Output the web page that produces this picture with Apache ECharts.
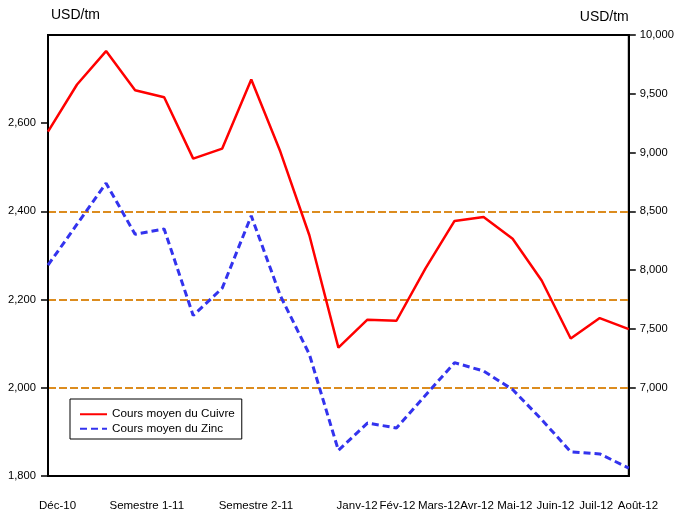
<!DOCTYPE html>
<html>
<head>
<meta charset="utf-8">
<script src="https://cdn.jsdelivr.net/npm/echarts@6/dist/echarts.min.js"></script>
<style>
  html, body { margin: 0; padding: 0; background: #fff; }
  #chart { width: 677px; height: 519px; }
</style>
</head>
<body>
<div id="chart"></div>
<script>
// months on the category axis (one point per month)
var months = ['Déc-10',
    'Janv-11', 'Févr-11', 'Mars-11', 'Avr-11', 'Mai-11', 'Juin-11',
    'Juil-11', 'Août-11', 'Sept-11', 'Oct-11', 'Nov-11', 'Déc-11',
    'Janv-12', 'Févr-12', 'Mars-12', 'Avr-12', 'Mai-12', 'Juin-12', 'Juil-12', 'Août-12'];

// USD/tm, right axis
var cuivre = [9179, 9579, 9863, 9530, 9470, 8949, 9034, 9621, 9009, 8297, 7342,
    7579, 7570, 8015, 8419, 8453, 8268, 7912, 7419, 7593, 7499];

// USD/tm, left axis
var zinc = [2278, 2371, 2464, 2348, 2360, 2164, 2226, 2390, 2209, 2076, 1858,
    1920, 1909, 1983, 2057, 2038, 1996, 1928, 1855, 1850, 1818];

// bottom labels and where they sit (in month steps from Déc-10)
var xLabels = ['Déc-10', 'Semestre 1-11', 'Semestre 2-11', 'Janv-12', 'Fév-12', 'Mars-12',
    'Avr-12', 'Mai-12', 'Juin-12', 'Juil-12', 'Août-12'];
var xLabelAt = [0.33, 3.4, 7.16, 10.64, 12.03, 13.46, 14.77, 16.07, 17.47, 18.87, 20.31];

var leftTicks = [1800, 2000, 2200, 2400, 2600];
var rightTicks = [7000, 7500, 8000, 8500, 9000, 9500, 10000];

var font = "'Liberation Sans', Arial, sans-serif";

function fmt(v) {
    return String(v).replace(/\B(?=(\d{3})+(?!\d))/g, ',');
}

var myChart = echarts.init(document.getElementById('chart'));
var option = {
    animation: false,
    backgroundColor: '#fff',
    textStyle: { fontFamily: font, color: '#000' },
    grid: [
        { left: 48, right: 48, top: 35, bottom: 43, show: true, borderColor: '#000', borderWidth: 2, backgroundColor: 'transparent' },
        { left: 48, right: 19, top: 35, bottom: 43, show: false }
    ],
    legend: {
        orient: 'vertical',
        left: 70,
        top: 399,
        padding: [8, 7, 3, 9],
        itemWidth: 27,
        itemHeight: 8,
        itemGap: 0,
        backgroundColor: '#fff',
        borderColor: '#000',
        borderWidth: 1,
        itemStyle: { opacity: 0 },
        textStyle: { fontFamily: font, fontSize: 11.7, lineHeight: 14.5, color: '#000' },
        data: ['Cours moyen du Cuivre', 'Cours moyen du Zinc']
    },
    xAxis: [
        {
            type: 'category',
            data: months,
            boundaryGap: false,
            gridIndex: 0,
            axisLine: { lineStyle: { color: '#000', width: 2 } },
            axisTick: { show: false },
            axisLabel: { show: false }
        },
        {
            type: 'value',
            gridIndex: 1,
            min: 0,
            max: 21,
            axisLine: { show: false },
            axisTick: { show: false },
            splitLine: { show: false },
            axisLabel: {
                customValues: xLabelAt,
                hideOverlap: false,
                showMinLabel: true,
                showMaxLabel: true,
                margin: 24,
                fontFamily: font,
                fontSize: 11.5,
                color: '#000',
                formatter: function (v) {
                    for (var i = 0; i < xLabelAt.length; i++) {
                        if (Math.abs(xLabelAt[i] - v) < 1e-6) return xLabels[i];
                    }
                    return '';
                }
            }
        }
    ],
    yAxis: [
        {
            type: 'value',
            gridIndex: 0,
            position: 'left',
            min: 1800,
            max: 2800,
            interval: 200,
            name: 'USD/tm',
            nameLocation: 'end',
            nameGap: 13,
            nameMoveOverlap: false,
            nameTextStyle: { fontFamily: font, fontSize: 14, color: '#000', align: 'left', padding: [0, 0, 0, 3] },
            axisLine: { show: true, lineStyle: { color: '#000', width: 2 } },
            axisTick: { show: true, customValues: leftTicks, length: 7, lineStyle: { color: '#000', width: 1.5 } },
            axisLabel: { customValues: leftTicks, margin: 12, fontFamily: font, fontSize: 11.2, color: '#000', formatter: fmt },
            splitLine: {
                show: true,
                showMinLine: false,
                showMaxLine: false,
                lineStyle: { color: '#dc8c1e', width: 2, type: [8, 3] }
            }
        },
        {
            type: 'value',
            gridIndex: 0,
            position: 'right',
            min: 6250,
            max: 10000,
            interval: 250,
            name: 'USD/tm',
            nameLocation: 'end',
            nameGap: 11,
            nameMoveOverlap: false,
            nameTextStyle: { fontFamily: font, fontSize: 14, color: '#000', align: 'right' },
            axisLine: { show: true, lineStyle: { color: '#000', width: 2 } },
            axisTick: { show: true, customValues: rightTicks, length: 7, lineStyle: { color: '#000', width: 1.5 } },
            axisLabel: { customValues: rightTicks, margin: 11, fontFamily: font, fontSize: 11.2, color: '#000', formatter: fmt },
            splitLine: { show: false }
        },
        {
            type: 'value',
            gridIndex: 1,
            show: false,
            min: 0,
            max: 1
        }
    ],
    series: [
        {
            name: 'Cours moyen du Cuivre',
            type: 'line',
            xAxisIndex: 0,
            yAxisIndex: 1,
            data: cuivre,
            symbol: 'none',
            lineStyle: { color: '#ff0000', width: 2.5 },
            itemStyle: { color: '#ff0000' }
        },
        {
            name: 'Cours moyen du Zinc',
            type: 'line',
            xAxisIndex: 0,
            yAxisIndex: 0,
            data: zinc,
            symbol: 'none',
            lineStyle: { color: '#3333ee', width: 3, type: [7, 4] },
            itemStyle: { color: '#3333ee' }
        }
    ]
};
myChart.setOption(option);
</script>
</body>
</html>
